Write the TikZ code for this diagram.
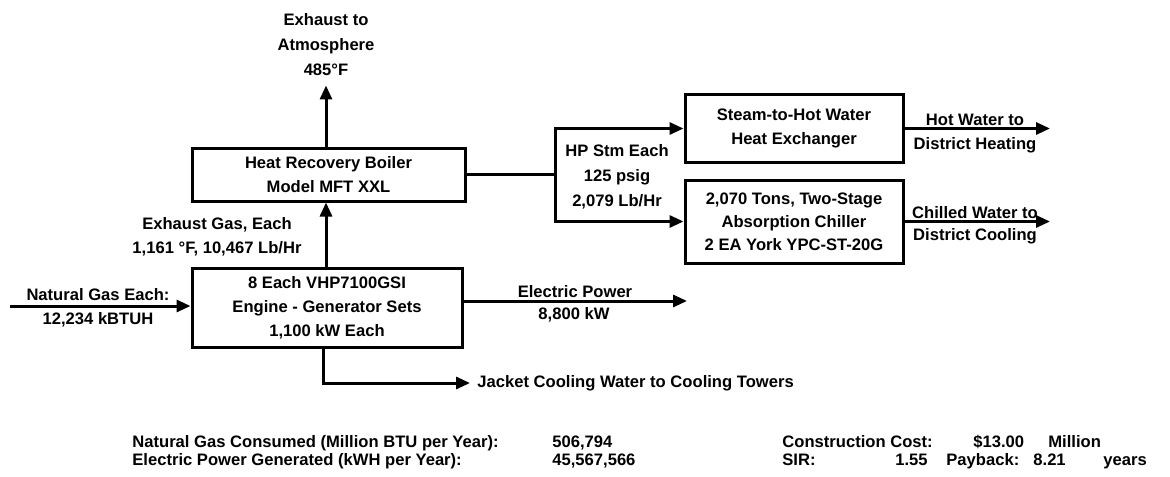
\documentclass[tikz,border=0pt]{standalone}
\usepackage{fontspec}
\setmainfont{Liberation Sans}
\usetikzlibrary{arrows.meta}

\begin{document}
\begin{tikzpicture}[x=0.5pt, y=-0.5pt,
        every node/.style={font=\bfseries\fontsize{8.3}{12}\selectfont, inner sep=0pt},
        box/.style={draw, line width=1.5pt, align=center},
        flow/.style={line width=1.5pt, -{Triangle[length=7pt,width=6pt]}},
        pipe/.style={line width=1.5pt},
        tab/.style={anchor=base west}]
        \useasboundingbox (0,0) rectangle (1170,476);
        % units and plant
        \node[box, minimum width=136.5pt, minimum height=26.5pt] (boiler) at (328.5,174.5) {Heat Recovery Boiler\\Model MFT XXL};
        \node[box, minimum width=135pt, minimum height=39.5pt] (engine) at (327,307.5) {8 Each VHP7100GSI\\Engine - Generator Sets\\1,100 kW Each};
        \node[box, minimum width=109pt, minimum height=33.5pt] (hx) at (794,128.5) {Steam-to-Hot Water\\Heat Exchanger};
        \node[box, minimum width=109pt, minimum height=41.5pt, font=\bfseries\fontsize{8.3}{11.5}\selectfont] (chiller) at (794,221.5) {2,070 Tons, Two-Stage\\Absorption Chiller\\2 EA York YPC-ST-20G};
        % stream labels
        \node[align=center, font=\bfseries\fontsize{8.3}{12.5}\selectfont] (exh) at (326,45) {Exhaust to\\Atmosphere\\485°F};
        \node[align=center] (exgas) at (217,237) {Exhaust Gas, Each\\1,161 °F, 10,467 Lb/Hr};
        \node (nglab) at (98,295) {Natural Gas Each:};
        \node (ngval) at (98,320) {12,234 kBTUH};
        \node (ellab) at (575,292) {Electric Power};
        \node (elval) at (574,315) {8,800 kW};
        \node[anchor=west] (jkt) at (477,383) {Jacket Cooling Water to Cooling Towers};
        \node[align=center, font=\bfseries\fontsize{8.3}{12.5}\selectfont] (hp) at (617,177) {HP Stm Each\\125 psig\\2,079 Lb/Hr};
        \node (hwlab) at (975,120) {Hot Water to};
        \node (hwval) at (975,145) {District Heating};
        \node (cwlab) at (975,213) {Chilled Water to};
        \node (cwval) at (975,236) {District Cooling};
        \coordinate (ngin) at (10,306);
        \coordinate (elout) at (687,301);
        \coordinate (split) at (555,174.5);
        \coordinate (hwout) at (1050,128.5);
        \coordinate (cwout) at (1050,221.5);
        % connectors
        \draw[flow, shorten >=4.5pt] (boiler.north -| exh.south) -- (exh.south);
        \draw[flow] (engine.north -| exh.south) -- (boiler.south -| exh.south);
        \draw[flow] (ngin) -- (ngin -| engine.west);
        \draw[flow] (elout -| engine.east) -- (elout);
        \draw[flow, shorten >=3.5pt] (engine.south -| 323,0) |- (jkt.west);
        \draw[pipe] (boiler.east) -- (split);
        \draw[flow] (split) |- (hx.west);
        \draw[flow] (split) |- (chiller.west);
        \draw[flow] (hx.east) -- (hwout);
        \draw[flow] (chiller.east) -- (cwout);
        % summary
        \node[tab] (gasq) at (132,447) {Natural Gas Consumed (Million BTU per Year):};
        \node[tab] (gasv) at (552,447) {506,794};
        \node[tab] (powq) at (132,465) {Electric Power Generated (kWH per Year):};
        \node[tab] (powv) at (552,465) {45,567,566};
        \node[tab] (costq) at (782,447) {Construction Cost:};
        \node[tab] (costv) at (973,447) {\$13.00};
        \node[tab] (costu) at (1048,447) {Million};
        \node[tab] (sirq) at (782,465) {SIR:};
        \node[anchor=base east] (sirv) at (928,465) {1.55};
        \node[tab] (payq) at (946,465) {Payback:};
        \node[tab] (payv) at (1033,465) {8.21};
        \node[tab] (payu) at (1103,465) {years};
    \end{tikzpicture}
\end{document}
